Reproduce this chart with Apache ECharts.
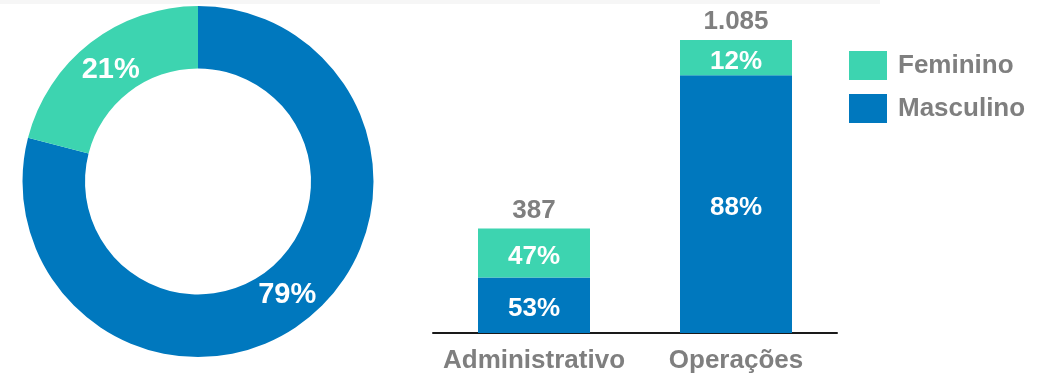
<!DOCTYPE html>
<html>
<head>
<meta charset="utf-8">
<script src="https://cdn.jsdelivr.net/npm/echarts@6/dist/echarts.min.js"></script>
<style>
  html, body { margin: 0; padding: 0; background: #ffffff; }
  #chart { width: 1053px; height: 376px; }
</style>
</head>
<body>
<div id="chart"></div>
<script>
// Distribuição por gênero: total geral (rosca) e por área (barras empilhadas)
const genders = ['Feminino', 'Masculino'];
const overallPct = [21, 79];            // Feminino, Masculino

const areas = ['Administrativo', 'Operações'];
const areaTotals = [387, 1085];
const femininoPct = [47, 12];
const masculinoPct = [53, 88];

const GREEN = '#3DD4B0';
const BLUE = '#0078BE';
const GRAY = '#7F7F7F';
const FONT = '"Liberation Sans", Arial, sans-serif';

// headcount of each segment, from the area total and its share
const masculinoCount = areaTotals.map((t, i) => t * masculinoPct[i] / 100);
const femininoCount = areaTotals.map((t, i) => t * femininoPct[i] / 100);

function formatThousands(n) {
  return String(Math.round(n)).replace(/\B(?=(\d{3})+(?!\d))/g, '.');
}

const chart = echarts.init(document.getElementById('chart'), null, { renderer: 'canvas' });

const pieLabel = {
  show: true,
  position: 'inside',
  formatter: '{c}%',
  fontFamily: FONT,
  fontSize: 29,
  fontWeight: 'bold',
  color: '#ffffff'
};

const barLabel = {
  show: true,
  position: 'inside',
  offset: [0, 4],
  fontFamily: FONT,
  fontSize: 26,
  fontWeight: 'bold',
  color: '#ffffff'
};

chart.setOption({
  animation: false,
  backgroundColor: '#ffffff',
  textStyle: { fontFamily: FONT },
  graphic: [{
    type: 'rect',
    shape: { x: 0, y: 0, width: 880, height: 4 },
    style: { fill: '#F6F6F6' },
    silent: true,
    z: -1
  }],
  legend: {
    data: genders,
    orient: 'vertical',
    left: 844,
    top: 46,
    itemWidth: 38,
    itemHeight: 29,
    itemGap: 14,
    icon: 'rect',
    selectedMode: false,
    textStyle: {
      fontFamily: FONT,
      fontSize: 26,
      fontWeight: 'bold',
      color: GRAY,
      padding: [0, 0, 0, 6]
    }
  },
  grid: { left: 433, right: 216, top: 40, bottom: 43 },
  xAxis: {
    type: 'category',
    data: areas,
    axisLine: { lineStyle: { color: '#1A1A1A', width: 2 } },
    axisTick: { show: false },
    axisLabel: {
      interval: 0,
      fontFamily: FONT,
      fontSize: 26,
      fontWeight: 'bold',
      color: GRAY,
      margin: 15
    }
  },
  yAxis: {
    type: 'value',
    min: 0,
    max: 1085,
    show: false,
    splitLine: { show: false }
  },
  series: [
    {
      type: 'pie',
      name: 'Total',
      center: [198, 181.5],
      radius: [113, 175.5],
      startAngle: 90,
      clockwise: true,
      silent: true,
      label: pieLabel,
      labelLine: { show: false },
      data: [
        {
          name: genders[1], value: overallPct[1],
          itemStyle: { color: BLUE },
          label: Object.assign({}, pieLabel, { offset: [-1, -3] })
        },
        {
          name: genders[0], value: overallPct[0],
          itemStyle: { color: GREEN },
          label: Object.assign({}, pieLabel, { offset: [3, 5] })
        }
      ]
    },
    {
      type: 'bar',
      name: 'Masculino',
      stack: 'area',
      barWidth: 112,
      itemStyle: { color: BLUE },
      label: Object.assign({}, barLabel, {
        formatter: p => masculinoPct[p.dataIndex] + '%'
      }),
      data: masculinoCount
    },
    {
      type: 'bar',
      name: 'Feminino',
      stack: 'area',
      barWidth: 112,
      itemStyle: { color: GREEN },
      label: Object.assign({}, barLabel, {
        formatter: p => femininoPct[p.dataIndex] + '%'
      }),
      data: femininoCount
    },
    {
      // transparent overlay carrying the area totals above each bar
      type: 'bar',
      name: 'Total por área',
      barWidth: 112,
      barGap: '-100%',
      silent: true,
      z: 1,
      itemStyle: { color: 'rgba(0,0,0,0)' },
      label: {
        show: true,
        position: 'top',
        distance: 5,
        formatter: p => formatThousands(areaTotals[p.dataIndex]),
        fontFamily: FONT,
        fontSize: 26,
        fontWeight: 'bold',
        color: GRAY
      },
      data: areaTotals
    }
  ]
});
</script>
</body>
</html>
